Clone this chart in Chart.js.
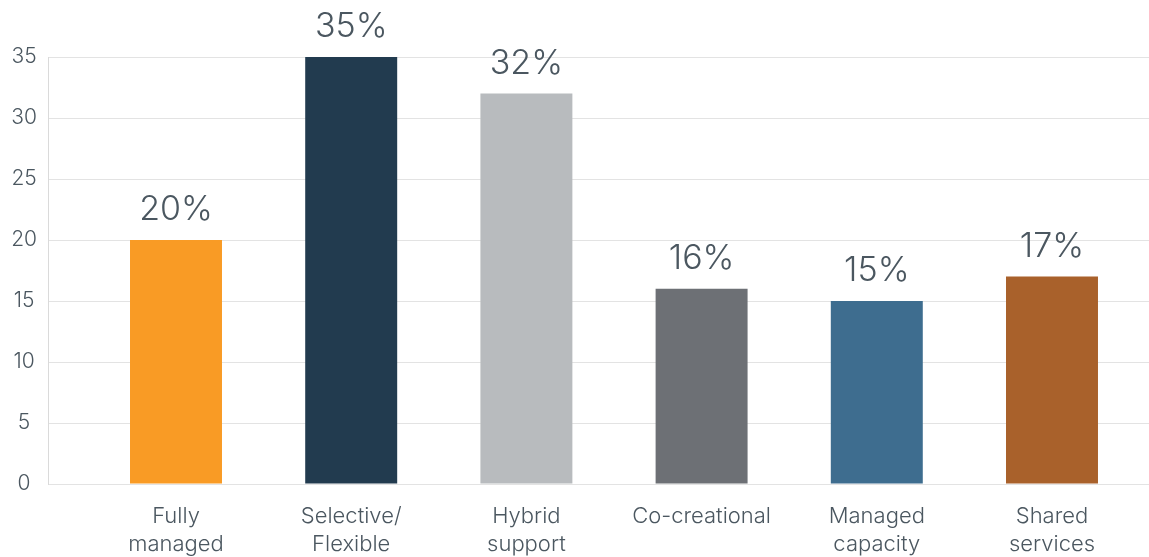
<!DOCTYPE html>
<html>
<head>
<meta charset="utf-8">
<title>Operating models</title>
<script src="https://cdn.jsdelivr.net/npm/chart.js@4.4.1/dist/chart.umd.min.js"></script>
<style>
    html, body { margin: 0; padding: 0; background: #ffffff; }
    #models-chart { display: block; }
</style>
</head>
<body>
<canvas id="models-chart" width="1149" height="557"></canvas>
<script>
// Dữ liệu biểu đồ
const categories = [
    ['Fully', 'managed'],
    ['Selective/', 'Flexible'],
    ['Hybrid', 'support'],
    ['Co-creational'],
    ['Managed', 'capacity'],
    ['Shared', 'services'],
];
const shares = [20, 35, 32, 16, 15, 17];
const yTicks = [0, 5, 10, 15, 20, 25, 30, 35];
const barColors = ['#F99B25', '#223B4F', '#B8BBBE', '#6D7075', '#3E6D8F', '#A9612B'];

const textColor = '#4B5760';
const fontFamily = 'Inter, "Noto Sans", sans-serif';

// Nhãn phần trăm phía trên cột
const valueLabels = {
    id: 'valueLabels',
    afterDatasetsDraw(chart) {
        const ctx = chart.ctx;
        const meta = chart.getDatasetMeta(0);
        ctx.save();
        ctx.font = '300 34px ' + fontFamily;
        ctx.fillStyle = textColor;
        ctx.textAlign = 'center';
        ctx.textBaseline = 'alphabetic';
        meta.data.forEach((bar, i) => {
            ctx.fillText(shares[i] + '%', bar.x, bar.y - 20);
        });
        ctx.restore();
    }
};

main();

function main() {
    modelChart();
}

function modelChart() {
    const ctx = document.getElementById('models-chart');
    new Chart(ctx, {
        type: 'bar',
        data: {
            datasets: [
                {
                    label: 'Share',
                    data: shares.map((v, i) => ({ x: i, y: v })),
                    backgroundColor: barColors,
                    borderWidth: 0,
                    barPercentage: 1,
                    categoryPercentage: 0.525,
                },
            ],
        },
        options: {
            responsive: false,
            animation: false,
            devicePixelRatio: 1,
            layout: {
                padding: { top: 57, right: 0, bottom: 0, left: 0 },
            },
            plugins: {
                legend: { display: false },
                tooltip: { enabled: false },
            },
            scales: {
                x: {
                    type: 'linear',
                    offset: false,
                    min: -0.7306,
                    max: 5.5537,
                    grid: { display: false, drawTicks: false, offset: false },
                    border: { display: false },
                    afterBuildTicks(scale) {
                        scale.ticks = categories.map((_, i) => ({ value: i }));
                    },
                    afterFit(scale) {
                        scale.height = 73;
                    },
                    ticks: {
                        autoSkip: false,
                        maxRotation: 0,
                        padding: 18,
                        color: textColor,
                        font: { family: fontFamily, size: 22, weight: '300', lineHeight: '28px' },
                        callback: (value) => categories[value],
                    },
                },
                y: {
                    min: 0,
                    max: 35,
                    afterBuildTicks(scale) {
                        scale.ticks = yTicks.map((v) => ({ value: v }));
                    },
                    afterFit(scale) {
                        scale.width = 48;
                    },
                    grid: { color: '#E3E3E3', lineWidth: 1, drawTicks: false },
                    border: { display: true, color: '#DADADA', width: 1 },
                    ticks: {
                        padding: 11,
                        crossAlign: 'center',
                        color: textColor,
                        font: { family: fontFamily, size: 21, weight: '300' },
                    },
                },
            },
        },
        plugins: [valueLabels],
    });
}
</script>
</body>
</html>
